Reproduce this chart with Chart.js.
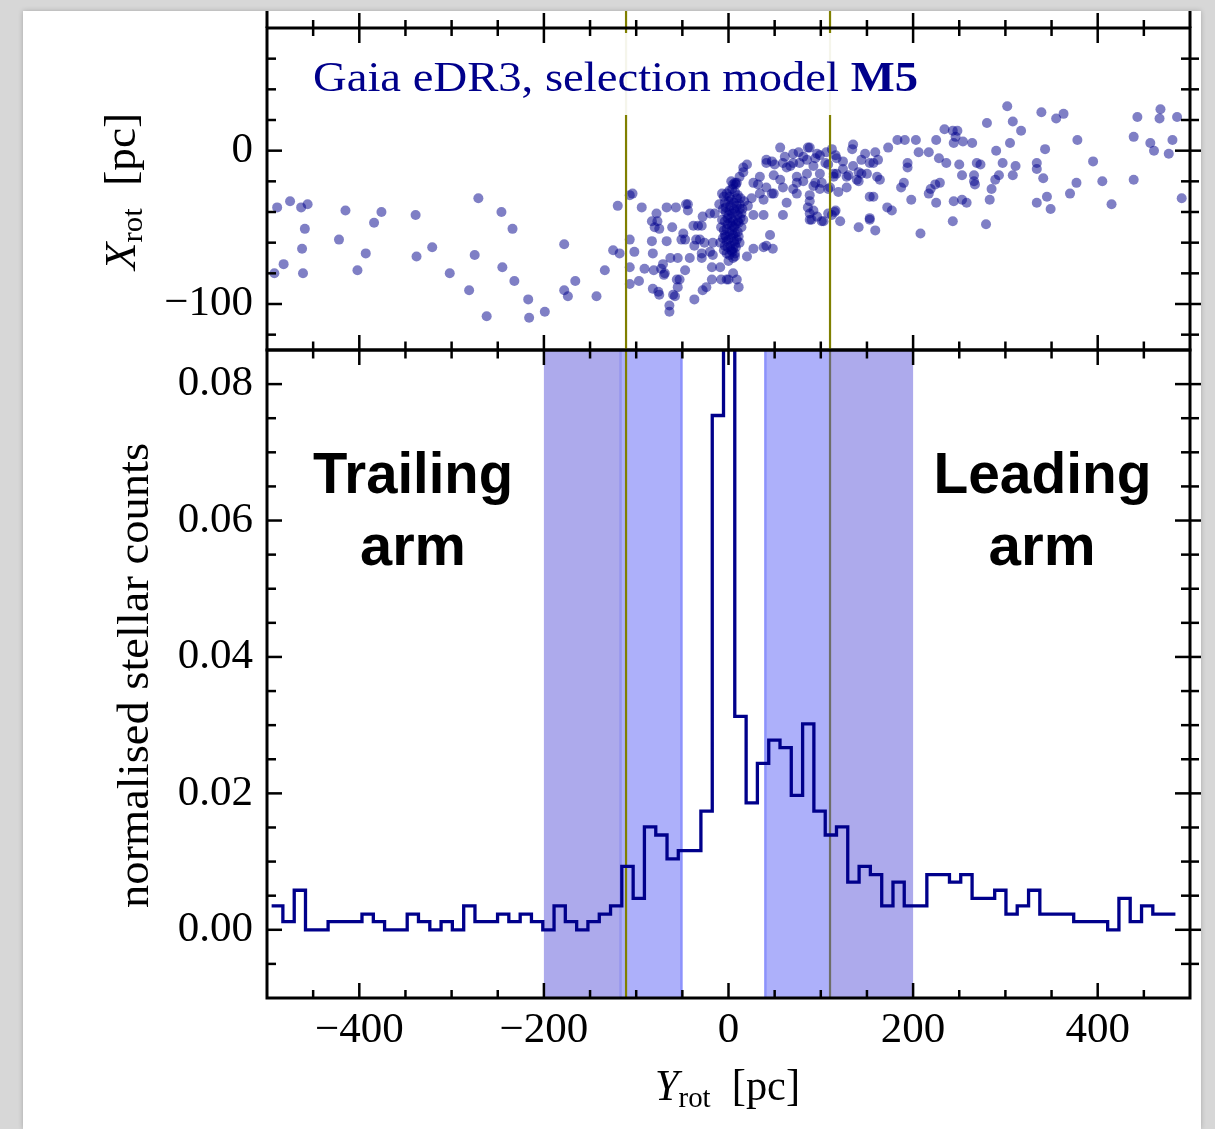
<!DOCTYPE html>
<html><head><meta charset="utf-8">
<script src="https://cdn.jsdelivr.net/npm/chart.js@4/dist/chart.umd.min.js"></script>
<style>
html,body{margin:0;padding:0;background:#d7d7d7;width:1215px;height:1129px;overflow:hidden}
#page{position:absolute;left:23px;top:11px;width:1178px;height:1118px;background:#fff;box-shadow:0 0 5px rgba(0,0,0,0.22)}
canvas{position:absolute;left:0;top:0;width:1215px;height:1129px}
</style></head><body>
<div id="page"></div>
<canvas id="cBot" width="1215" height="1129"></canvas>
<canvas id="cTop" width="1215" height="1129"></canvas>
<script>
// ---------------- data ----------------
const xMajorTicks = [-400, -200, 0, 200, 400];
const xMinorTicks = [-450, -350, -300, -250, -150, -100, -50, 50, 100, 150, 250, 300, 350, 450];
const topYTicks = [-100, 0];
const topYMinor = [-120, -80, -60, -40, -20, 20, 40, 60];
const botYTicks = [0, 0.02, 0.04, 0.06, 0.08];
const botYMinor = [-0.005, 0.005, 0.01, 0.015, 0.025, 0.03, 0.035, 0.045, 0.05, 0.055, 0.065, 0.07, 0.075];

const binEdges = [-495.0,-482.8,-470.5,-458.3,-446.0,-433.8,-421.6,-409.3,-397.1,-384.8,-372.6,-360.4,-348.1,-335.9,-323.6,-311.4,-299.2,-286.9,-274.7,-262.4,-250.2,-238.0,-225.7,-213.5,-201.2,-189.0,-176.8,-164.5,-152.3,-140.0,-127.8,-115.6,-103.3,-91.1,-78.8,-66.6,-54.4,-42.1,-29.9,-17.6,-5.4,6.8,19.1,31.3,43.6,55.8,68.0,80.3,92.5,104.8,117.0,129.2,141.5,153.7,166.0,178.2,190.4,202.7,214.9,227.2,239.4,251.6,263.9,276.1,288.4,300.6,312.8,325.1,337.3,349.6,361.8,374.0,386.3,398.5,410.8,423.0,435.2,447.5,459.7,472.0,484.2];
const histCounts = [
 0.0035,0.0012,0.0058,0,0,0.0012,0.0012,0.0012,0.0023,0.0012,
 0,0,0.0023,0.0012,0,0.0012,0,0.0035,0.0012,0.0012,
 0.0023,0.0012,0.0023,0.0012,0,0.0035,0.0012,0,0.0012,0.0023,
 0.0035,0.0093,0.0046,0.0151,0.0139,0.0104,0.0116,0.0116,0.0174,0.0754,
 0.435,0.0313,0.0186,0.0244,0.0278,0.0267,0.0197,0.0302,0.0174,0.0139,
 0.0151,0.0070,0.0093,0.0081,0.0035,0.0070,0.0035,0.0035,0.0081,0.0081,
 0.0070,0.0081,0.0046,0.0046,0.0058,0.0023,0.0035,0.0058,0.0023,0.0023,
 0.0023,0.0012,0.0012,0.0012,0,0.0046,0.0012,0.0035,0.0023,0.0023];

const trailingOuter = [-200, -116];
const trailingInner = [-117, -51];
const leadingInner = [40, 110];
const leadingOuter = [110, 200];
const streamCuts = [-111, 110];

const streamStars = [
[-489,-37],[-475,-33],[-463,-37],[-456,-35],[-459,-51],[-482,-74],[-492,-80],[-462,-64],[-461,-80],[-415,-39],[-422,-58],[-376,-40],[-384,-47],[-393,-67],[-402,-78],
[-339,-42],[-321,-63],[-338,-69],[-302,-80],[-271,-31],[-275,-68],[-281,-91],[-262,-108],[-246,-40],[-234,-51],[-245,-76],[-232,-85],[-217,-97],[-216,-109],[-199,-105],[-178,-61],[-166,-85],[-178,-91],[-174,-95],[-143,-95],[-134,-78],[-120,-36],[-125,-65],[-118,-67],
[-107,-29],[-104,-28],[-107,-58],[-102,-66],[-107,-76],[-107,-87],[-97,-85],[-94,-37],[-83,-46],[-78,-41],[-67,-37],[-57,-37],[-44,-35],[-44,-39],[-83,-59],[-82,-67],[-91,-77],[-81,-78],[-71,-74],[-70,-81],[-63,-70],[-67,-59],[-75,-51],[-61,-50],[-49,-54],[-47,-58],[-55,-70],[-47,-78],[-56,-84],[-55,-89],[-76,-92],[-82,-90],[-60,-94],[-64,-101],[-64,-105],[-37,-97],[-28,-91],[-18,-84],[-8,-84],[0,-84],[9,-84],[11,-89],[-18,-76],[-9,-76],[5,-80],[-38,-49],[-29,-49],[-35,-58],[-37,-62],[-26,-60],[-29,-67],[-17,-68],[-17,-60],[-28,-43],[-20,-41],[-80,-50],[-77,-46],[-75,-94],[-73,-77],[-69,-80],[-58,-95],[-53,-84],[-51,-58],[-46,-35],[-42,-70],[-33,-49],[-31,-58],[-29,-70],[-24,-89],[-20,-66],[-15,-41],[-2,-84],
[20,-69],[27,-64],[41,-62],[48,-64],[45,-55],[38,-42],[59,-42],[63,-34],[56,2],[76,-1],[86,2],[96,-2],[16,-11],[20,-9],[7,-21],[32,-22],[41,-8],[49,-16],[63,-11],[70,-8],[81,-4],[92,-10],[38,-32],[47,-28],[70,-25],[81,-20],[92,-23],[96,-43],[88,-41],[7,-67],[5,-70],[27,-42],[38,-63],[16,-14],[27,-21],[34,-17],[47,-7],[61,-4],[70,-2],[88,2],[94,-5],[99,-3],[106,-1],[116,-3],[124,-7],[134,1],[135,4],[148,-2],[159,-1],[153,-8],[141,-14],[128,-17],[117,-15],[99,-15],[74,-17],[56,-19],[49,-28],[74,-28],[88,-33],[99,-25],[88,-45],[101,-46],[116,-39],[121,-46],[141,-50],[153,-44],[159,-52],[157,-30],[139,-19],[12,-17],[9,-21],[5,-22],[41,-6],[50,-9],[59,-8],[67,-10],[77,-8],[85,-15],[74,-21],[59,-24],[41,-24],[34,-28],[25,-31],[21,-36],[85,-6],[108,-9],[114,-17],[108,-25],[101,-21],[88,-29],[92,-39],[108,-41],[128,-24],[150,-15],[161,-17],[157,-8],[144,-6],[135,-10],
[112,1],[105,-8],[117,-5],[162,-6],[94,-21],[114,-15],[124,-12],[130,-16],[144,-15],[141,-20],[164,-19],[119,-27],[110,-24],[86,-37],[115,-40],[103,-46],[90,-45],[112,-42],
[302,29],[339,25],[355,21],[363,24],[443,22],[468,27],[467,21],[486,22],[280,18],[308,19],[317,13],[234,14],[243,13],[248,13],[246,9],[244,5],[254,6],[264,5],[225,7],[217,-1],[206,-1],[203,7],[191,7],[183,7],[173,2],[378,7],[439,9],[457,5],[461,0],[477,-2],[481,7],[305,5],[290,0],[343,1],[395,-7],[377,-21],[405,-20],[439,-19],[415,-35],[370,-28],[345,-30],[349,-38],[334,-34],[334,-12],[341,-18],[334,-8],[308,-16],[311,-10],[297,-8],[293,-16],[289,-19],[285,-25],[283,-32],[269,-8],[273,-9],[266,-16],[266,-20],[267,-22],[250,-9],[253,-16],[258,-34],[253,-32],[244,-33],[243,-46],[279,-48],[236,-8],[228,-5],[229,-21],[224,-22],[219,-25],[217,-28],[225,-34],[198,-32],[187,-24],[190,-21],[194,-11],[194,-8],[208,-54],[172,-37],[177,-39],[153,-30],[153,-45],[491,-31],
[-5,-30],[-2,-28],[1,-26],[4,-25],[7,-27],[10,-29],[13,-31],[-4,-34],[0,-33],[3,-32],[6,-34],[9,-36],[12,-35],[15,-38],[-6,-38],[-3,-40],[1,-39],[4,-41],[7,-40],[10,-42],[13,-44],[-7,-45],[-4,-46],[-1,-44],[2,-47],[5,-46],[8,-48],[11,-47],[14,-50],[-8,-50],[-5,-52],[-2,-51],[1,-53],[4,-52],[7,-54],[10,-53],[-6,-57],[-3,-56],[0,-58],[3,-57],[6,-59],[9,-58],[12,-60],[-4,-62],[-1,-63],[2,-62],[5,-64],[8,-63],[-2,-67],[1,-68],[4,-66],[7,-69],[-9,-60],[16,-45],[17,-33],[-10,-35],[0,-72],[3,-20],[8,-22],[-1,-48],[3,-44],[6,-50],[-3,-37],[9,-31],[2,-36],[5,-55],[-5,-65],[11,-56],[14,-41],[-7,-28],[0,-42],[4,-49],[-2,-59],[6,-38],[10,-46],[1,-30],[7,-61],[-4,-55],[12,-38],[3,-65]
];

// ---------------- styling ----------------
const SERIF = '"Liberation Serif", "Times New Roman", serif';
const SANS = '"Liberation Sans", Arial, sans-serif';
const NAVY = '#00008b';
const OLIVE = '#808000';
const DARK = 'rgb(173,170,236)';
const LIGHT = 'rgb(173,176,250)';

function fmtTick(v, dec) { const s = Math.abs(v).toFixed(dec); return v < -1e-12 ? '\u2212' + s : s; }
function seg(ctx, x0, y0, x1, y1) { ctx.beginPath(); ctx.moveTo(x0, y0); ctx.lineTo(x1, y1); ctx.stroke(); }
function ticksX(ctx, sc, vals, y, up, down) { vals.forEach(v => { const p = sc.getPixelForValue(v); seg(ctx, p, y - up, p, y + down); }); }
function ticksY(ctx, sc, vals, x, left, right) { vals.forEach(v => { const p = sc.getPixelForValue(v); seg(ctx, x - left, p, x + right, p); }); }
function pageClip(ctx) { ctx.beginPath(); ctx.rect(23, 11, 1178, 1118); ctx.clip(); }
function drawRich(ctx, segs, o) {
  ctx.save();
  ctx.fillStyle = o.color || '#000';
  ctx.textBaseline = 'alphabetic'; ctx.textAlign = 'left';
  let w = 0;
  segs.forEach(s => { ctx.font = s.f; s.w = ctx.measureText(s.t).width; w += s.w; });
  const sx = o.width ? o.width / w : 1;
  ctx.translate(o.x, o.y);
  if (o.rotate) ctx.rotate(o.rotate);
  ctx.scale(sx, 1);
  let cx = o.align === 'center' ? -w / 2 : 0;
  segs.forEach(s => { ctx.font = s.f; ctx.fillText(s.t, cx, s.dy || 0); cx += s.w; });
  ctx.restore();
}

const topDeco = {
  id: 'topDeco',
  afterDatasetsDraw(chart) {
    const { ctx, chartArea: a, scales: { x, y } } = chart;
    ctx.save(); pageClip(ctx);
    ctx.strokeStyle = OLIVE; ctx.lineWidth = 2.2;
    streamCuts.forEach(v => { const p = x.getPixelForValue(v); seg(ctx, p, 0, p, a.bottom); });
    ctx.fillStyle = 'rgba(255,255,255,0.92)';
    ctx.fillRect(300, 33, 632, 82);
    drawRich(ctx, [{ t: 'Gaia eDR3, selection model ', f: '43px ' + SERIF }, { t: 'M5', f: 'bold 43px ' + SERIF }],
      { x: 313, y: 91, width: 605, color: NAVY });
    ctx.strokeStyle = '#000'; ctx.lineWidth = 3;
    ctx.strokeRect(a.left, a.top, a.right - a.left, a.bottom - a.top);
    seg(ctx, a.left, 0, a.left, a.top); seg(ctx, a.right, 0, a.right, a.top);
    ctx.lineWidth = 2.5;
    ticksX(ctx, x, xMajorTicks, a.top, 15, 15); ticksX(ctx, x, xMinorTicks, a.top, 8, 8);
    ticksX(ctx, x, xMajorTicks, a.bottom, 15, 15); ticksX(ctx, x, xMinorTicks, a.bottom, 8.5, 8.5);
    ticksY(ctx, y, topYTicks, a.left, 0, 15); ticksY(ctx, y, topYMinor, a.left, 0, 9);
    ticksY(ctx, y, topYTicks, a.right, 15, 15); ticksY(ctx, y, topYMinor, a.right, 9, 9);
    drawRich(ctx, [{ t: 'X', f: 'italic 44px ' + SERIF }, { t: 'rot', f: '30px ' + SERIF, dy: 7 }, { t: '  [pc]', f: '44px ' + SERIF }],
      { x: 135, y: 191.5, rotate: -Math.PI / 2, align: 'center', width: 157 });
    ctx.restore();
  }
};

const botDeco = {
  id: 'botDeco',
  beforeDatasetsDraw(chart) {
    const { ctx, chartArea: a, scales: { x } } = chart;
    const px = v => x.getPixelForValue(v);
    ctx.save();
    ctx.beginPath(); ctx.rect(a.left, a.top, a.right - a.left, a.bottom - a.top); ctx.clip();
    const band = (r, col) => { ctx.fillStyle = col; ctx.fillRect(px(r[0]), a.top, px(r[1]) - px(r[0]), a.bottom - a.top); };
    band(trailingOuter, DARK); band(leadingOuter, DARK);
    band(trailingInner, LIGHT); band(leadingInner, LIGHT);
    ctx.lineWidth = 2.5;
    ctx.strokeStyle = 'rgb(150,150,238)'; seg(ctx, px(trailingInner[0]), a.top, px(trailingInner[0]), a.bottom);
    ctx.strokeStyle = 'rgb(140,146,252)';
    seg(ctx, px(trailingInner[1]), a.top, px(trailingInner[1]), a.bottom);
    seg(ctx, px(leadingInner[0]), a.top, px(leadingInner[0]), a.bottom);
    ctx.lineWidth = 2.2;
    ctx.strokeStyle = OLIVE; seg(ctx, px(streamCuts[0]), a.top, px(streamCuts[0]), a.bottom);
    ctx.strokeStyle = 'rgb(110,110,104)'; seg(ctx, px(streamCuts[1]), a.top, px(streamCuts[1]), a.bottom);
    ctx.restore();
  },
  afterDatasetsDraw(chart) {
    const { ctx, chartArea: a, scales: { x, y } } = chart;
    ctx.save(); pageClip(ctx);
    ctx.strokeStyle = '#000'; ctx.lineWidth = 3;
    ctx.strokeRect(a.left, a.top, a.right - a.left, a.bottom - a.top);
    ctx.lineWidth = 2.5;
    ticksX(ctx, x, xMajorTicks, a.bottom, 15, 0); ticksX(ctx, x, xMinorTicks, a.bottom, 8, 0);
    ticksY(ctx, y, botYTicks, a.left, 0, 15); ticksY(ctx, y, botYMinor, a.left, 0, 9);
    ticksY(ctx, y, botYTicks, a.right, 15, 15); ticksY(ctx, y, botYMinor, a.right, 9, 9);
    const B = 'bold 57px ' + SANS;
    drawRich(ctx, [{ t: 'Trailing', f: B }], { x: 413, y: 493, align: 'center', width: 200 });
    drawRich(ctx, [{ t: 'arm', f: B }], { x: 413, y: 565, align: 'center', width: 106 });
    drawRich(ctx, [{ t: 'Leading', f: B }], { x: 1042.5, y: 493, align: 'center', width: 218 });
    drawRich(ctx, [{ t: 'arm', f: B }], { x: 1042, y: 565, align: 'center', width: 107 });
    drawRich(ctx, [{ t: 'Y', f: 'italic 44px ' + SERIF }, { t: 'rot', f: '30px ' + SERIF, dy: 7 }, { t: '  [pc]', f: '44px ' + SERIF }],
      { x: 727.5, y: 1100, align: 'center', width: 145 });
    drawRich(ctx, [{ t: 'normalised stellar counts', f: '44px ' + SERIF }],
      { x: 148, y: 675.5, rotate: -Math.PI / 2, align: 'center', width: 465 });
    ctx.restore();
  }
};

const tickFont = { family: SERIF, size: 43 };
const charts = [];
function build() {
  charts.push(new Chart(document.getElementById('cBot'), {
    type: 'line',
    data: { datasets: [{
      data: binEdges.map((e, i) => ({ x: e, y: histCounts[Math.min(i, histCounts.length - 1)] })),
      stepped: 'before', borderColor: NAVY, borderWidth: 3.3, pointRadius: 0, fill: false,
      borderJoinStyle: 'miter', borderCapStyle: 'butt'
    }] },
    options: {
      responsive: false, animation: false, events: [], devicePixelRatio: 1,
      layout: { padding: { left: 0, top: 350, right: 25, bottom: 0 } },
      plugins: { legend: { display: false }, tooltip: { enabled: false } },
      scales: {
        x: { type: 'linear', min: -500, max: 500,
          afterBuildTicks: s => { s.ticks = xMajorTicks.map(v => ({ value: v })); },
          afterFit: s => { s.height = 131; s.paddingLeft = 0; s.paddingRight = 0; },
          ticks: { callback: v => fmtTick(v, 0), font: tickFont, color: '#000', padding: 7, maxRotation: 0, autoSkip: false },
          grid: { display: false, drawTicks: false }, border: { display: false } },
        y: { type: 'linear', min: -0.01, max: 0.085,
          afterBuildTicks: s => { s.ticks = botYTicks.map(v => ({ value: v })); },
          afterFit: s => { s.width = 267; s.paddingTop = 0; s.paddingBottom = 0; },
          ticks: { callback: v => fmtTick(v, 2), font: tickFont, color: '#000', padding: 14 },
          grid: { display: false, drawTicks: false }, border: { display: false } }
      }
    },
    plugins: [botDeco]
  }));
  charts.push(new Chart(document.getElementById('cTop'), {
    type: 'scatter',
    data: { datasets: [{
      data: streamStars.map(p => ({ x: p[0], y: p[1] })),
      pointRadius: 5, pointHoverRadius: 5, pointBackgroundColor: 'rgba(0,0,139,0.5)', pointBorderWidth: 0
    }] },
    options: {
      responsive: false, animation: false, events: [], devicePixelRatio: 1,
      layout: { padding: { left: 0, top: 28, right: 25, bottom: 779 } },
      plugins: { legend: { display: false }, tooltip: { enabled: false } },
      scales: {
        x: { type: 'linear', min: -500, max: 500, display: false },
        y: { type: 'linear', min: -130, max: 80,
          afterBuildTicks: s => { s.ticks = topYTicks.map(v => ({ value: v })); },
          afterFit: s => { s.width = 267; s.paddingTop = 0; s.paddingBottom = 0; },
          ticks: { callback: v => fmtTick(v, 0), font: tickFont, color: '#000', padding: 14 },
          grid: { display: false, drawTicks: false }, border: { display: false } }
      }
    },
    plugins: [topDeco]
  }));
}
build();
if (document.fonts && document.fonts.load) {
  Promise.all(['43px "Liberation Serif"', 'italic 44px "Liberation Serif"', 'bold 43px "Liberation Serif"', 'bold 57px "Liberation Sans"']
    .map(f => document.fonts.load(f))).then(() => charts.forEach(c => c.update('none'))).catch(() => {});
}
</script>
</body></html>
